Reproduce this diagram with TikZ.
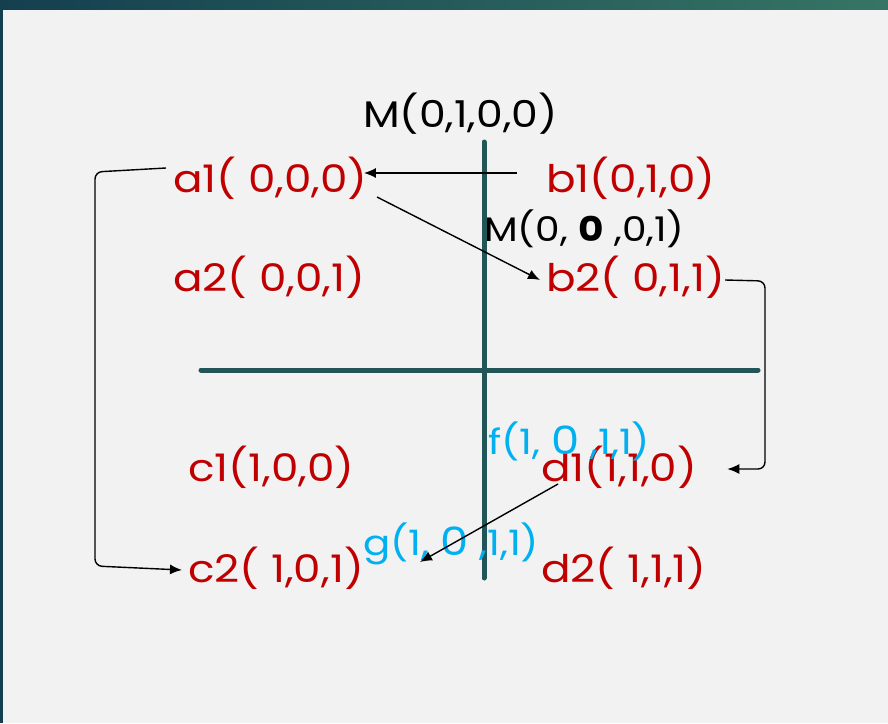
\documentclass[tikz,border=0pt]{standalone}
\usepackage{fontspec}
\setmainfont{Poppins}[FakeStretch=1.15]
\usetikzlibrary{arrows.meta,positioning}
\definecolor{slidebg}{HTML}{F2F2F2}
\definecolor{barleft}{HTML}{143F4F}
\definecolor{barright}{HTML}{367565}
\definecolor{axisteal}{HTML}{215557}
\definecolor{lblred}{HTML}{C00000}
\definecolor{lblcyan}{HTML}{00B0F0}
\begin{document}
\begin{tikzpicture}[x=1pt,y=-1pt,
	state/.style={anchor=west,inner sep=0pt,text=lblred,font=\fontsize{38}{44}\selectfont},
	mlbl/.style={anchor=west,inner sep=0pt,text=black,font=\fontsize{37}{42}\selectfont},
	flbl/.style={anchor=west,inner sep=0pt,text=lblcyan,font=\fontsize{35}{40}\selectfont},
	axis/.style={line width=5pt,color=axisteal,line cap=round},
	arr/.style={-{Latex[length=12pt,width=10pt]},line width=1.4pt,rounded corners=7pt}]
	\useasboundingbox (0,0) rectangle (888,723);
	\fill[slidebg] (0,0) rectangle (888,723);
	\shade[left color=barleft,right color=barright] (0,0) rectangle (888,9);
	\fill[barleft] (0,0) rectangle (3,723);
	\draw[axis] (484,142) -- (484,578);
	\draw[axis] (201,370) -- (758,370);
	\node[mlbl] (m1) at (363,114) {M(0,1,0,0)};
	\node[mlbl,font=\fontsize{34}{40}\selectfont] (m2) at (484,229) {M(0, \textbf{0} ,0,1)};
	\node[state] (a1) at (173,178) {a1( 0,0,0)};
	\node[state] (b1) at (546,178) {b1(0,1,0)};
	\node[state] (a2) at (173,277) {a2( 0,0,1)};
	\node[state] (b2) at (546,277) {b2( 0,1,1)};
	\node[state] (c1) at (188,467) {c1(1,0,0)};
	\node[state] (d1) at (541,467) {d1(1,1,0)};
	\node[state] (c2) at (188,568) {c2( 1,0,1)};
	\node[state] (d2) at (541,568) {d2( 1,1,1)};
	\node[flbl] (f) at (488,441) {f(1, {\fontsize{39}{44}\selectfont 0} ,1,1)};
	\node[flbl] (g) at (363,544) {g(1, {\fontsize{39}{44}\selectfont 0} ,1,1)};
	\coordinate (b1in) at (517,173);
	\coordinate (a1out) at (377,197);
	\coordinate (d1out) at (558,484);
	\draw[arr] (b1in) -- ([xshift=-4pt]a1.east |- b1in);
	\draw[arr] (a1out) -- ([xshift=-6pt,yshift=-3pt]b2.west);
	\draw[arr] ([yshift=-3pt]b2.east) -- (765,281) -- (765,469) -- ([xshift=30pt,yshift=-2pt]d1.east);
	\draw[arr] (d1out) -- (420,562);
	\draw[arr] ([xshift=-7pt,yshift=10pt]a1.west) -- (95,172) -- (95,566) -- ([xshift=-6pt,yshift=-2pt]c2.west);
\end{tikzpicture}
\end{document}
